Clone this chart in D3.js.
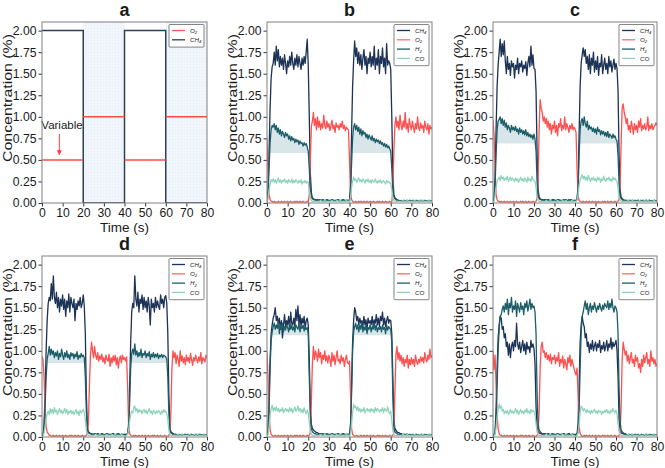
<!DOCTYPE html>
<html><head><meta charset="utf-8">
<script src="https://cdn.jsdelivr.net/npm/d3@7"></script>
<style>
body{margin:0;background:#fff}
svg{display:block}
text{font-family:"Liberation Sans",Arial,sans-serif;fill:#1a1a1a}
</style>
</head><body><svg id="chart" width="665" height="468"></svg>
<script>
// ---------------- DATA ----------------
const panelLabels = ["a","b","c","d","e","f"];
const xTicks = [0,10,20,30,40,50,60,70,80];
const yTicks = [0,0.25,0.5,0.75,1.0,1.25,1.5,1.75,2.0];
const sampleStep = 0.5; // s between samples of the measured series

// panel a: programmed (step) concentrations
const aStepTimes = [0,20,40,60,80];
const aCH4 = [2.0,0,2.0,0,0];
const aO2  = [0.5,1.0,0.5,1.0];
const aShaded = [[20,40],[60,80]];
const aAnnotation = "Variable";

// panel b
const bCH4 = [
0.03,0.15,0.6,1.1,1.45,1.58,1.62,1.75,1.6,1.82,
1.65,1.78,1.58,1.7,1.6,1.68,1.55,1.72,1.62,1.5,
1.65,1.58,1.7,1.6,1.75,1.62,1.55,1.68,1.6,1.72,
1.58,1.7,1.62,1.55,1.68,1.6,1.7,1.62,1.75,1.9,
1.6,1.0,0.35,0.12,0.06,0.05,0.04,0.04,0.03,0.04,
0.03,0.04,0.03,0.03,0.04,0.03,0.02,0.03,0.04,0.03,
0.03,0.02,0.03,0.04,0.03,0.03,0.02,0.03,0.03,0.04,
0.03,0.02,0.03,0.03,0.04,0.03,0.02,0.03,0.03,0.03,
0.03,0.2,0.8,1.35,1.65,1.88,1.7,1.8,1.62,1.75,
1.6,1.72,1.55,1.68,1.78,1.6,1.7,1.5,1.68,1.62,
1.75,1.58,1.7,1.6,1.82,1.55,1.68,1.6,1.78,1.5,
1.7,1.62,1.8,1.58,1.68,1.5,1.85,1.6,1.65,1.62,
1.55,1.0,0.35,0.1,0.06,0.05,0.04,0.03,0.03,0.02,
0.03,0.02,0.02,0.03,0.02,0.02,0.03,0.02,0.02,0.03,
0.02,0.02,0.03,0.02,0.02,0.03,0.02,0.02,0.02,0.03,
0.02,0.03,0.02,0.02,0.03,0.02,0.02,0.03,0.02,0.02,
0.02];
const bO2 = [
0.75,0.35,0.1,0.04,0.02,0.02,0.01,0.02,0.01,0.01,
0.01,0.02,0.01,0.01,0.02,0.01,0.01,0.02,0.01,0.01,
0.02,0.01,0.01,0.02,0.01,0.01,0.01,0.02,0.01,0.02,
0.01,0.01,0.02,0.01,0.01,0.02,0.01,0.01,0.01,0.02,
0.01,0.1,0.5,0.88,0.95,1.05,0.9,0.98,0.85,1.0,
0.88,0.95,0.85,0.92,0.87,1.02,0.9,0.86,0.95,0.88,
0.92,0.84,0.9,0.96,0.86,0.9,0.82,0.93,0.88,0.9,
0.85,0.92,0.88,0.95,0.86,0.9,0.84,0.88,0.86,0.85,
0.5,0.12,0.04,0.02,0.01,0.01,0.02,0.01,0.01,0.02,
0.01,0.02,0.01,0.01,0.02,0.01,0.01,0.02,0.01,0.01,
0.02,0.01,0.01,0.02,0.01,0.01,0.01,0.02,0.01,0.02,
0.01,0.01,0.02,0.01,0.01,0.02,0.01,0.01,0.01,0.02,
0.01,0.01,0.15,0.6,0.9,1.0,0.88,0.95,0.85,1.02,
0.9,0.85,0.95,0.88,1.05,0.86,0.92,0.82,0.98,0.9,
0.85,0.95,0.88,0.82,0.92,0.86,1.0,0.88,0.84,0.93,
0.87,0.9,0.82,0.95,0.88,0.85,0.92,0.8,0.9,0.86,
0.88];
const bH2 = [
0.02,0.1,0.4,0.7,0.85,0.9,0.88,0.92,0.85,0.9,
0.82,0.87,0.8,0.85,0.78,0.83,0.8,0.76,0.82,0.78,
0.8,0.74,0.78,0.72,0.77,0.73,0.75,0.7,0.74,0.71,
0.73,0.68,0.72,0.69,0.7,0.66,0.7,0.67,0.69,0.65,
0.6,0.4,0.15,0.07,0.05,0.04,0.04,0.03,0.04,0.03,
0.03,0.04,0.03,0.03,0.04,0.03,0.03,0.03,0.04,0.03,
0.03,0.03,0.03,0.04,0.03,0.03,0.03,0.03,0.03,0.04,
0.03,0.03,0.03,0.03,0.04,0.03,0.03,0.03,0.03,0.03,
0.02,0.12,0.45,0.75,0.88,0.92,0.85,0.9,0.83,0.88,
0.8,0.86,0.78,0.84,0.8,0.82,0.76,0.8,0.74,0.79,
0.76,0.73,0.78,0.72,0.75,0.7,0.74,0.71,0.73,0.69,
0.72,0.68,0.7,0.66,0.69,0.65,0.68,0.64,0.66,0.63,
0.6,0.4,0.15,0.07,0.05,0.04,0.03,0.03,0.03,0.02,
0.03,0.02,0.03,0.03,0.02,0.03,0.03,0.02,0.03,0.03,
0.02,0.03,0.03,0.02,0.03,0.03,0.02,0.03,0.02,0.03,
0.03,0.02,0.03,0.03,0.02,0.03,0.02,0.03,0.03,0.02,
0.03];
const bCO = [
0.01,0.05,0.15,0.22,0.27,0.25,0.28,0.24,0.27,0.23,
0.26,0.29,0.24,0.27,0.23,0.26,0.25,0.28,0.24,0.26,
0.23,0.27,0.25,0.24,0.28,0.23,0.26,0.24,0.27,0.25,
0.23,0.26,0.24,0.27,0.22,0.25,0.24,0.26,0.23,0.25,
0.24,0.15,0.06,0.03,0.02,0.02,0.02,0.02,0.02,0.02,
0.02,0.02,0.03,0.02,0.02,0.02,0.03,0.02,0.02,0.02,
0.02,0.02,0.02,0.03,0.02,0.02,0.02,0.02,0.03,0.02,
0.02,0.03,0.02,0.02,0.02,0.02,0.02,0.03,0.02,0.02,
0.01,0.06,0.18,0.25,0.3,0.26,0.28,0.24,0.27,0.29,
0.25,0.27,0.24,0.28,0.26,0.23,0.27,0.25,0.28,0.24,
0.26,0.23,0.27,0.25,0.24,0.28,0.25,0.23,0.26,0.24,
0.27,0.23,0.25,0.26,0.24,0.22,0.26,0.24,0.25,0.23,
0.23,0.15,0.06,0.03,0.02,0.02,0.02,0.02,0.02,0.02,
0.02,0.02,0.03,0.02,0.02,0.02,0.03,0.02,0.02,0.02,
0.02,0.02,0.02,0.03,0.02,0.02,0.02,0.02,0.03,0.02,
0.02,0.03,0.02,0.02,0.02,0.02,0.02,0.03,0.02,0.02,
0.02];

// panel c
const cCH4 = [
0.02,0.05,0.3,0.85,1.35,1.6,1.75,1.9,1.7,1.85,
1.72,1.88,1.65,1.5,1.7,1.55,1.62,1.48,1.65,1.58,
1.62,1.45,1.6,1.55,1.68,1.5,1.62,1.58,1.65,1.52,
1.6,1.56,1.64,1.48,1.62,1.7,1.58,1.82,1.6,1.72,
1.56,1.55,1.3,0.6,0.15,0.07,0.05,0.04,0.04,0.03,
0.04,0.03,0.03,0.04,0.03,0.03,0.02,0.03,0.03,0.04,
0.03,0.03,0.02,0.03,0.04,0.03,0.03,0.02,0.03,0.03,
0.03,0.04,0.03,0.02,0.03,0.03,0.04,0.03,0.02,0.03,
0.03,0.03,0.04,0.2,0.8,1.35,1.62,1.72,1.8,1.7,
1.78,1.62,1.7,1.55,1.72,1.5,1.68,1.6,1.75,1.52,
1.65,1.55,1.7,1.48,1.62,1.58,1.72,1.5,1.6,1.68,
1.55,1.62,1.5,1.7,1.58,1.65,1.52,1.6,1.67,1.55,
1.62,1.56,1.3,0.55,0.15,0.07,0.05,0.04,0.03,0.03,
0.03,0.03,0.02,0.03,0.03,0.02,0.03,0.03,0.02,0.03,
0.02,0.03,0.03,0.02,0.03,0.02,0.03,0.03,0.02,0.03,
0.03,0.02,0.03,0.03,0.02,0.03,0.02,0.03,0.03,0.02,
0.03];
const cO2 = [
0.97,0.8,0.4,0.1,0.04,0.02,0.02,0.01,0.02,0.01,
0.01,0.02,0.01,0.01,0.02,0.01,0.01,0.02,0.01,0.01,
0.02,0.01,0.01,0.02,0.01,0.01,0.01,0.02,0.01,0.02,
0.01,0.01,0.02,0.01,0.01,0.02,0.01,0.01,0.01,0.02,
0.01,0.01,0.02,0.05,0.3,0.85,1.2,1.1,1.05,0.95,
1.0,0.92,0.98,0.88,0.95,0.85,0.92,0.8,0.9,0.86,
0.95,0.82,0.9,0.78,0.92,0.88,0.98,0.84,0.9,0.86,
1.0,0.85,0.92,0.88,0.82,0.9,0.86,0.92,0.85,0.88,
0.86,0.82,0.4,0.08,0.03,0.02,0.01,0.01,0.02,0.01,
0.01,0.02,0.01,0.01,0.02,0.01,0.01,0.02,0.01,0.01,
0.02,0.01,0.01,0.02,0.01,0.01,0.01,0.02,0.01,0.02,
0.01,0.01,0.02,0.01,0.01,0.02,0.01,0.01,0.01,0.02,
0.01,0.01,0.02,0.04,0.2,0.7,1.1,1.15,1.05,1.0,
0.92,0.98,0.85,0.9,0.82,0.95,0.88,0.8,0.92,0.85,
0.9,0.82,0.95,0.88,0.98,0.84,0.9,0.86,0.92,0.85,
0.88,1.0,0.84,0.9,0.86,0.92,0.85,0.88,0.9,0.93,
0.9];
const cH2 = [
0.01,0.04,0.2,0.55,0.85,0.95,0.97,1.0,0.92,0.98,
0.9,0.96,0.88,0.93,0.85,0.9,0.87,0.82,0.9,0.85,
0.88,0.84,0.89,0.83,0.86,0.8,0.87,0.82,0.85,0.8,
0.84,0.79,0.85,0.78,0.82,0.77,0.8,0.76,0.79,0.74,
0.8,0.74,0.6,0.25,0.08,0.05,0.04,0.04,0.03,0.03,
0.03,0.04,0.03,0.03,0.04,0.03,0.03,0.03,0.04,0.03,
0.03,0.03,0.03,0.04,0.03,0.03,0.03,0.03,0.03,0.04,
0.03,0.03,0.03,0.03,0.04,0.03,0.03,0.03,0.03,0.03,
0.02,0.03,0.04,0.15,0.55,0.85,0.95,0.98,0.9,1.0,
0.92,0.88,0.95,0.85,0.9,0.86,0.88,0.83,0.87,0.82,
0.86,0.8,0.88,0.83,0.85,0.79,0.84,0.8,0.83,0.78,
0.82,0.77,0.83,0.76,0.8,0.78,0.75,0.8,0.76,0.78,
0.74,0.72,0.55,0.22,0.08,0.05,0.04,0.03,0.03,0.03,
0.03,0.02,0.03,0.03,0.02,0.03,0.03,0.02,0.03,0.03,
0.02,0.03,0.03,0.02,0.03,0.03,0.02,0.03,0.02,0.03,
0.03,0.02,0.03,0.03,0.02,0.03,0.02,0.03,0.03,0.02,
0.03];
const cCO = [
0.0,0.02,0.08,0.18,0.25,0.28,0.3,0.26,0.32,0.28,
0.3,0.26,0.29,0.27,0.31,0.25,0.28,0.3,0.26,0.29,
0.27,0.25,0.29,0.26,0.28,0.24,0.27,0.3,0.26,0.28,
0.25,0.29,0.27,0.24,0.3,0.26,0.28,0.25,0.31,0.27,
0.26,0.25,0.18,0.07,0.03,0.02,0.02,0.02,0.02,0.02,
0.02,0.02,0.03,0.02,0.02,0.02,0.03,0.02,0.02,0.02,
0.02,0.02,0.02,0.03,0.02,0.02,0.02,0.02,0.03,0.02,
0.02,0.03,0.02,0.02,0.02,0.02,0.02,0.03,0.02,0.02,
0.02,0.02,0.03,0.1,0.2,0.27,0.3,0.33,0.28,0.31,
0.27,0.3,0.26,0.32,0.28,0.25,0.29,0.27,0.3,0.26,
0.28,0.25,0.3,0.27,0.29,0.24,0.28,0.26,0.31,0.27,
0.25,0.29,0.27,0.3,0.26,0.28,0.25,0.3,0.27,0.29,
0.26,0.25,0.17,0.07,0.03,0.02,0.02,0.02,0.02,0.02,
0.02,0.02,0.03,0.02,0.02,0.02,0.03,0.02,0.02,0.02,
0.02,0.02,0.02,0.03,0.02,0.02,0.02,0.02,0.03,0.02,
0.02,0.03,0.02,0.02,0.02,0.02,0.02,0.03,0.02,0.02,
0.02];

// panel d
const dCH4 = [
0.01,0.03,0.15,0.5,1.0,1.35,1.55,1.62,1.58,1.78,
1.6,1.87,1.62,1.55,1.68,1.5,1.62,1.45,1.6,1.52,
1.65,1.48,1.6,1.4,1.58,1.5,1.66,1.45,1.62,1.55,
1.5,1.6,1.35,1.55,1.48,1.58,1.52,1.62,1.5,1.55,
1.65,1.52,1.2,0.5,0.12,0.06,0.05,0.04,0.04,0.03,
0.03,0.04,0.03,0.03,0.04,0.03,0.02,0.03,0.04,0.03,
0.03,0.02,0.03,0.04,0.03,0.03,0.02,0.03,0.03,0.04,
0.03,0.02,0.03,0.03,0.04,0.03,0.02,0.03,0.03,0.03,
0.03,0.03,0.03,0.04,0.15,0.6,1.1,1.45,1.55,1.5,
1.87,1.6,1.52,1.68,1.45,1.6,1.55,1.65,1.48,1.62,
1.5,1.58,1.45,1.62,1.52,1.3,1.6,1.5,1.55,1.45,
1.62,1.5,1.58,1.52,1.48,1.65,1.55,1.6,1.5,1.62,
1.64,1.55,1.2,0.5,0.12,0.06,0.05,0.04,0.03,0.03,
0.03,0.02,0.02,0.03,0.02,0.02,0.03,0.02,0.02,0.03,
0.02,0.02,0.03,0.02,0.02,0.03,0.02,0.02,0.02,0.03,
0.02,0.03,0.02,0.02,0.03,0.02,0.02,0.03,0.02,0.02,
0.02];
const dO2 = [
0.93,0.9,0.7,0.3,0.12,0.06,0.04,0.02,0.02,0.01,
0.01,0.02,0.01,0.01,0.02,0.01,0.01,0.02,0.01,0.01,
0.02,0.01,0.01,0.02,0.01,0.01,0.01,0.02,0.01,0.02,
0.01,0.01,0.02,0.01,0.01,0.02,0.01,0.01,0.01,0.02,
0.01,0.01,0.01,0.02,0.04,0.15,0.6,0.95,1.1,1.0,
0.92,1.05,0.95,0.9,0.98,0.88,0.94,0.9,0.96,0.87,
0.92,0.85,0.95,0.9,0.88,0.96,0.82,0.92,0.86,0.94,
0.88,0.95,0.84,0.92,0.8,0.9,0.94,0.86,0.95,0.9,
0.92,0.88,0.93,0.6,0.12,0.04,0.02,0.01,0.01,0.02,
0.01,0.02,0.01,0.01,0.02,0.01,0.01,0.02,0.01,0.01,
0.02,0.01,0.01,0.02,0.01,0.01,0.01,0.02,0.01,0.02,
0.01,0.01,0.02,0.01,0.01,0.02,0.01,0.01,0.01,0.02,
0.01,0.01,0.01,0.02,0.05,0.3,0.8,1.0,0.92,0.98,
0.85,0.95,0.9,0.82,1.0,0.88,0.94,0.86,0.92,0.84,
0.95,0.88,0.92,0.86,0.97,0.9,0.83,0.92,0.88,0.95,
0.9,0.86,0.93,0.88,0.98,0.85,0.92,0.9,0.87,0.95,
0.92];
const dH2 = [
0.01,0.02,0.1,0.35,0.7,0.9,0.97,1.05,0.95,1.02,
0.96,1.0,0.92,0.98,0.94,1.0,0.9,0.97,0.93,1.02,
0.95,0.9,0.98,0.93,1.0,0.92,0.96,0.9,0.98,0.94,
0.97,0.91,0.96,0.93,0.99,0.9,0.95,0.92,0.97,0.93,
0.95,0.92,0.7,0.3,0.08,0.05,0.04,0.04,0.03,0.03,
0.03,0.04,0.03,0.03,0.04,0.03,0.03,0.03,0.04,0.03,
0.03,0.03,0.03,0.04,0.03,0.03,0.03,0.03,0.03,0.04,
0.03,0.03,0.03,0.03,0.04,0.03,0.03,0.03,0.03,0.03,
0.02,0.02,0.03,0.04,0.1,0.4,0.8,0.97,1.02,0.96,
1.08,0.95,1.0,0.93,0.98,0.94,1.02,0.92,0.97,0.95,
1.0,0.92,0.97,0.94,0.99,0.9,0.96,0.93,0.98,0.92,
0.96,0.93,0.97,0.91,0.95,0.93,0.96,0.92,0.95,0.94,
0.93,0.9,0.7,0.28,0.08,0.05,0.04,0.03,0.03,0.03,
0.03,0.02,0.03,0.03,0.02,0.03,0.03,0.02,0.03,0.03,
0.02,0.03,0.03,0.02,0.03,0.03,0.02,0.03,0.02,0.03,
0.03,0.02,0.03,0.03,0.02,0.03,0.02,0.03,0.03,0.02,
0.03];
const dCO = [
0.0,0.01,0.05,0.12,0.22,0.27,0.3,0.26,0.33,0.28,
0.32,0.27,0.34,0.29,0.31,0.26,0.3,0.33,0.28,0.31,
0.27,0.3,0.33,0.28,0.32,0.26,0.3,0.28,0.31,0.27,
0.3,0.26,0.29,0.32,0.27,0.3,0.25,0.31,0.28,0.3,
0.32,0.28,0.2,0.08,0.03,0.02,0.02,0.02,0.02,0.02,
0.02,0.02,0.03,0.02,0.02,0.02,0.03,0.02,0.02,0.02,
0.02,0.02,0.02,0.03,0.02,0.02,0.02,0.02,0.03,0.02,
0.02,0.03,0.02,0.02,0.02,0.02,0.02,0.03,0.02,0.02,
0.01,0.01,0.02,0.03,0.08,0.18,0.26,0.3,0.28,0.34,
0.36,0.3,0.33,0.28,0.32,0.29,0.31,0.27,0.3,0.32,
0.28,0.31,0.27,0.3,0.33,0.28,0.3,0.26,0.31,0.29,
0.27,0.3,0.28,0.31,0.29,0.26,0.3,0.28,0.32,0.29,
0.3,0.27,0.2,0.08,0.03,0.02,0.02,0.02,0.02,0.02,
0.02,0.02,0.03,0.02,0.02,0.02,0.03,0.02,0.02,0.02,
0.02,0.02,0.02,0.03,0.02,0.02,0.02,0.02,0.03,0.02,
0.02,0.03,0.02,0.02,0.02,0.02,0.02,0.03,0.02,0.02,
0.02];

// panel e
const eCH4 = [
0.02,0.1,0.45,0.9,1.2,1.3,1.38,1.42,1.5,1.35,
1.4,1.3,1.38,1.25,1.35,1.15,1.3,1.42,1.28,1.35,
1.3,1.4,1.25,1.45,1.32,1.3,1.38,1.28,1.48,1.35,
1.52,1.3,1.42,1.28,1.38,1.32,1.4,1.25,1.35,1.38,
1.3,0.9,0.35,0.15,0.1,0.08,0.07,0.06,0.05,0.05,
0.04,0.04,0.04,0.03,0.04,0.03,0.03,0.03,0.03,0.03,
0.03,0.02,0.03,0.04,0.03,0.03,0.02,0.03,0.03,0.04,
0.03,0.02,0.03,0.03,0.04,0.03,0.02,0.03,0.03,0.03,
0.03,0.15,0.6,1.1,1.35,1.5,1.45,1.35,1.4,1.3,
1.38,1.32,1.35,1.28,1.4,1.3,1.36,1.25,1.38,1.32,
1.35,1.3,1.4,1.28,1.36,1.32,1.42,1.3,1.38,1.28,
1.4,1.35,1.45,1.3,1.38,1.28,1.35,1.4,1.32,1.36,
1.35,1.2,0.7,0.2,0.1,0.08,0.06,0.05,0.05,0.04,
0.04,0.03,0.03,0.03,0.03,0.03,0.03,0.03,0.02,0.03,
0.02,0.02,0.03,0.02,0.02,0.03,0.02,0.02,0.02,0.03,
0.02,0.03,0.02,0.02,0.03,0.02,0.02,0.03,0.02,0.02,
0.02];
const eO2 = [
0.98,0.7,0.3,0.08,0.03,0.02,0.01,0.01,0.02,0.01,
0.01,0.02,0.01,0.01,0.02,0.01,0.01,0.02,0.01,0.01,
0.02,0.01,0.01,0.02,0.01,0.01,0.01,0.02,0.01,0.02,
0.01,0.01,0.02,0.01,0.01,0.02,0.01,0.01,0.01,0.02,
0.01,0.02,0.05,0.4,0.85,1.05,0.9,1.0,0.95,0.88,
1.02,0.92,0.98,0.85,0.95,0.9,1.0,0.88,0.94,0.86,
0.95,0.9,0.82,0.98,0.88,0.95,0.84,0.92,1.0,0.88,
0.9,0.85,0.95,0.88,0.92,0.82,0.9,0.95,0.86,0.85,
0.88,0.5,0.1,0.03,0.02,0.01,0.01,0.02,0.01,0.01,
0.01,0.02,0.01,0.01,0.02,0.01,0.01,0.02,0.01,0.01,
0.02,0.01,0.01,0.02,0.01,0.01,0.01,0.02,0.01,0.02,
0.01,0.01,0.02,0.01,0.01,0.02,0.01,0.01,0.01,0.02,
0.01,0.01,0.02,0.05,0.5,0.95,1.05,0.9,0.98,0.88,
0.95,0.85,0.92,0.82,0.9,0.86,0.95,0.8,0.9,0.84,
0.92,0.85,0.9,0.82,0.95,0.88,0.84,0.9,0.86,0.93,
0.88,0.92,0.86,0.98,0.9,0.87,0.95,0.9,1.02,0.92,
0.95];
const eH2 = [
0.01,0.05,0.3,0.8,1.12,1.22,1.28,1.32,1.25,1.3,
1.26,1.33,1.2,1.3,1.25,1.32,1.22,1.28,1.24,1.3,
1.27,1.22,1.32,1.25,1.3,1.24,1.28,1.22,1.3,1.27,
1.25,1.32,1.22,1.28,1.26,1.3,1.23,1.28,1.25,1.27,
1.2,0.7,0.25,0.1,0.06,0.05,0.04,0.04,0.03,0.03,
0.03,0.04,0.03,0.03,0.04,0.03,0.03,0.03,0.04,0.03,
0.03,0.03,0.03,0.04,0.03,0.03,0.03,0.03,0.03,0.04,
0.03,0.03,0.03,0.03,0.04,0.03,0.03,0.03,0.03,0.03,
0.02,0.1,0.5,1.0,1.22,1.28,1.32,1.25,1.3,1.22,
1.3,1.25,1.33,1.22,1.28,1.24,1.3,1.2,1.27,1.25,
1.3,1.22,1.28,1.25,1.32,1.24,1.3,1.22,1.27,1.25,
1.28,1.22,1.3,1.25,1.27,1.2,1.3,1.24,1.28,1.26,
1.25,1.1,0.5,0.12,0.06,0.05,0.04,0.03,0.03,0.03,
0.03,0.02,0.03,0.03,0.02,0.03,0.03,0.02,0.03,0.03,
0.02,0.03,0.03,0.02,0.03,0.03,0.02,0.03,0.02,0.03,
0.03,0.02,0.03,0.03,0.02,0.03,0.02,0.03,0.03,0.02,
0.03];
const eCO = [
0.01,0.03,0.12,0.25,0.33,0.37,0.3,0.34,0.31,0.35,
0.3,0.33,0.29,0.32,0.3,0.34,0.28,0.31,0.33,0.3,
0.32,0.29,0.34,0.3,0.33,0.28,0.31,0.35,0.3,0.32,
0.36,0.3,0.33,0.29,0.32,0.28,0.34,0.3,0.27,0.31,
0.28,0.18,0.07,0.03,0.02,0.02,0.02,0.02,0.02,0.02,
0.02,0.02,0.03,0.02,0.02,0.02,0.03,0.02,0.02,0.02,
0.02,0.02,0.02,0.03,0.02,0.02,0.02,0.02,0.03,0.02,
0.02,0.03,0.02,0.02,0.02,0.02,0.02,0.03,0.02,0.02,
0.01,0.04,0.15,0.28,0.38,0.34,0.36,0.31,0.35,0.3,
0.33,0.29,0.32,0.3,0.34,0.28,0.31,0.33,0.3,0.32,
0.29,0.33,0.3,0.32,0.28,0.34,0.3,0.33,0.31,0.29,
0.32,0.3,0.34,0.28,0.33,0.31,0.3,0.35,0.29,0.27,
0.3,0.2,0.08,0.03,0.02,0.02,0.02,0.02,0.02,0.02,
0.02,0.02,0.03,0.02,0.02,0.02,0.03,0.02,0.02,0.02,
0.02,0.02,0.02,0.03,0.02,0.02,0.02,0.02,0.03,0.02,
0.02,0.03,0.02,0.02,0.02,0.02,0.02,0.03,0.02,0.02,
0.02];

// panel f
const fCH4 = [
0.02,0.03,0.06,0.3,0.8,1.15,1.3,1.4,1.38,1.25,
1.28,1.15,1.2,1.05,1.1,0.95,1.08,0.92,1.05,1.1,
1.0,1.12,1.05,1.32,1.08,1.02,1.1,0.98,1.05,1.12,
1.0,1.08,0.96,1.1,1.02,1.05,0.98,1.12,1.04,1.08,
1.02,0.85,0.35,0.12,0.07,0.05,0.04,0.04,0.03,0.04,
0.03,0.04,0.03,0.03,0.04,0.03,0.02,0.03,0.04,0.03,
0.03,0.02,0.03,0.04,0.03,0.03,0.02,0.03,0.03,0.04,
0.03,0.02,0.03,0.03,0.04,0.03,0.02,0.03,0.03,0.03,
0.03,0.03,0.04,0.15,0.6,1.1,1.3,1.4,1.32,1.28,
1.15,1.2,1.05,1.1,0.98,1.08,1.02,1.12,1.0,1.06,
1.1,1.0,1.08,1.04,1.12,0.98,1.06,1.02,1.1,1.0,
1.05,1.12,1.0,1.08,1.04,1.15,1.02,1.1,1.05,1.08,
1.12,1.0,0.7,0.2,0.08,0.05,0.04,0.04,0.03,0.03,
0.03,0.02,0.02,0.03,0.02,0.02,0.03,0.02,0.02,0.03,
0.02,0.02,0.03,0.02,0.02,0.03,0.02,0.02,0.02,0.03,
0.02,0.03,0.02,0.02,0.03,0.02,0.02,0.03,0.02,0.02,
0.02];
const fO2 = [
1.0,0.78,0.95,0.6,0.25,0.1,0.04,0.02,0.02,0.01,
0.01,0.02,0.01,0.01,0.02,0.01,0.01,0.02,0.01,0.01,
0.02,0.01,0.01,0.02,0.01,0.01,0.01,0.02,0.01,0.02,
0.01,0.01,0.02,0.01,0.01,0.02,0.01,0.01,0.01,0.02,
0.01,0.01,0.01,0.02,0.05,0.3,0.8,1.05,1.1,0.98,
1.0,0.92,0.98,0.9,0.95,0.88,0.96,0.85,0.92,0.9,
0.95,0.85,0.92,0.88,0.98,0.82,0.9,0.86,0.94,0.8,
0.9,0.85,0.78,0.92,0.86,0.95,0.82,0.9,0.85,0.8,
0.75,0.72,0.8,0.5,0.12,0.04,0.02,0.01,0.01,0.02,
0.01,0.02,0.01,0.01,0.02,0.01,0.01,0.02,0.01,0.01,
0.02,0.01,0.01,0.02,0.01,0.01,0.01,0.02,0.01,0.02,
0.01,0.01,0.02,0.01,0.01,0.02,0.01,0.01,0.01,0.02,
0.01,0.01,0.01,0.02,0.05,0.35,0.9,1.1,1.02,0.95,
1.0,0.88,0.95,0.85,0.92,0.98,0.86,0.9,0.82,0.95,
0.88,0.92,0.8,0.85,0.75,0.9,0.82,0.95,0.86,0.92,
0.98,0.85,0.9,0.82,1.0,0.88,0.92,0.85,0.9,0.82,
0.85];
const fH2 = [
0.01,0.02,0.04,0.2,0.6,1.0,1.25,1.4,1.42,1.48,
1.52,1.45,1.55,1.48,1.6,1.42,1.55,1.5,1.62,1.45,
1.52,1.48,1.58,1.4,1.55,1.5,1.45,1.56,1.48,1.52,
1.42,1.55,1.5,1.58,1.46,1.52,1.6,1.48,1.55,1.5,
1.52,1.45,1.2,0.5,0.15,0.08,0.06,0.05,0.04,0.04,
0.03,0.04,0.03,0.03,0.04,0.03,0.03,0.03,0.04,0.03,
0.03,0.03,0.03,0.04,0.03,0.03,0.03,0.03,0.03,0.04,
0.03,0.03,0.03,0.03,0.04,0.03,0.03,0.03,0.03,0.03,
0.02,0.02,0.03,0.05,0.3,0.8,1.2,1.4,1.45,1.52,
1.58,1.48,1.55,1.42,1.5,1.55,1.45,1.52,1.48,1.56,
1.5,1.45,1.52,1.48,1.55,1.5,1.46,1.53,1.48,1.55,
1.52,1.5,1.58,1.48,1.55,1.5,1.6,1.5,1.45,1.52,
1.5,1.45,1.2,0.55,0.18,0.08,0.06,0.05,0.04,0.04,
0.03,0.02,0.03,0.03,0.02,0.03,0.03,0.02,0.03,0.03,
0.02,0.03,0.03,0.02,0.03,0.03,0.02,0.03,0.02,0.03,
0.03,0.02,0.03,0.03,0.02,0.03,0.02,0.03,0.03,0.02,
0.03];
const fCO = [
0.0,0.01,0.03,0.1,0.22,0.32,0.38,0.33,0.36,0.3,
0.32,0.27,0.3,0.28,0.31,0.26,0.29,0.32,0.28,0.3,
0.27,0.3,0.33,0.28,0.31,0.26,0.29,0.32,0.28,0.3,
0.27,0.31,0.29,0.33,0.28,0.3,0.27,0.32,0.29,0.31,
0.3,0.26,0.15,0.06,0.03,0.02,0.02,0.02,0.02,0.02,
0.02,0.02,0.03,0.02,0.02,0.02,0.03,0.02,0.02,0.02,
0.02,0.02,0.02,0.03,0.02,0.02,0.02,0.02,0.03,0.02,
0.02,0.03,0.02,0.02,0.02,0.02,0.02,0.03,0.02,0.02,
0.01,0.01,0.02,0.05,0.15,0.28,0.36,0.34,0.3,0.33,
0.31,0.28,0.32,0.29,0.3,0.27,0.31,0.28,0.3,0.32,
0.28,0.3,0.27,0.31,0.29,0.3,0.26,0.3,0.28,0.31,
0.29,0.32,0.28,0.3,0.27,0.31,0.29,0.33,0.3,0.28,
0.31,0.27,0.15,0.06,0.03,0.02,0.02,0.02,0.02,0.02,
0.02,0.02,0.03,0.02,0.02,0.02,0.03,0.02,0.02,0.02,
0.02,0.02,0.02,0.03,0.02,0.02,0.02,0.02,0.03,0.02,
0.02,0.03,0.02,0.02,0.02,0.02,0.02,0.03,0.02,0.02,
0.02];

// H2 shaded-area lower bound for each measured panel (null = none)
const h2FillBase = [0.58, 0.69, 0.86, 1.18, null];

// ---------------- DRAWING ----------------
const svg = d3.select("#chart");
const colX = [[42,207],[267,432],[493,657]];
const rowY = [[22,203],[256,437]];
const colors = {CH4:"#1c3256", O2:"#ff4f4f", H2:"#1c5d68", CO:"#8fd3bd", fill:"#a8c8d0"};

const measured = [
  {CH4:bCH4,O2:bO2,H2:bH2,CO:bCO},
  {CH4:cCH4,O2:cO2,H2:cH2,CO:cCO},
  {CH4:dCH4,O2:dO2,H2:dH2,CO:dCO},
  {CH4:eCH4,O2:eO2,H2:eH2,CO:eCO},
  {CH4:fCH4,O2:fO2,H2:fH2,CO:fCO}
];

const defs = svg.append("defs");
const pat = defs.append("pattern").attr("id","dots").attr("width",3).attr("height",3).attr("patternUnits","userSpaceOnUse");
pat.append("rect").attr("width",3).attr("height",3).attr("fill","#f1f6fc");
pat.append("rect").attr("x",1).attr("y",1).attr("width",1).attr("height",1).attr("fill","#e3ecf6");
defs.append("marker").attr("id","arrowR").attr("viewBox","0 0 10 10").attr("refX",9).attr("refY",5)
  .attr("markerWidth",5).attr("markerHeight",5).attr("orient","auto")
  .append("path").attr("d","M0,0L10,5L0,10Z").attr("fill","#ff3b3b");

function legendLabel(sel, name){
  const m = name.match(/^([A-Z]+)(\d*)$/);
  sel.text(null);
  sel.append("tspan").text(m[1]);
  if (m[2]) sel.append("tspan").attr("font-size",4.2).attr("dy",1.3).text(m[2]);
}

function drawPanel(idx){
  const col = idx % 3, row = Math.floor(idx/3);
  const [x0,x1] = colX[col], [y0,y1] = rowY[row];
  const x = d3.scaleLinear().domain([0,80]).range([x0,x1]);
  const y = d3.scaleLinear().domain([0,2.1]).range([y1,y0]);
  const g = svg.append("g");
  const clipId = "clip"+idx;
  defs.append("clipPath").attr("id",clipId).append("rect")
    .attr("x",x0).attr("y",y0).attr("width",x1-x0).attr("height",y1-y0);
  const plot = g.append("g").attr("clip-path",`url(#${clipId})`);

  let legendItems;
  if (idx === 0){
    aShaded.forEach(([a,b])=>{
      plot.append("rect").attr("x",x(a)).attr("y",y0).attr("width",x(b)-x(a)).attr("height",y1-y0).attr("fill","url(#dots)");
    });
    const pts = aStepTimes.map((t,i)=>[t,aCH4[i]]);
    plot.append("path").attr("d", d3.line().x(d=>x(d[0])).y(d=>y(d[1])).curve(d3.curveStepAfter)(pts))
      .attr("fill","none").attr("stroke","#2c3e5c").attr("stroke-width",1.5);
    aO2.forEach((v,i)=>{
      plot.append("line").attr("x1",x(aStepTimes[i])).attr("x2",x(aStepTimes[i+1]))
        .attr("y1",y(v)).attr("y2",y(v)).attr("stroke","#ff4a4a").attr("stroke-width",1.5);
    });
    // annotation
    g.append("text").attr("x",x(9.7)).attr("y",y(0.86)).attr("text-anchor","middle")
      .attr("font-size",11.5).text(aAnnotation);
    g.append("line").attr("x1",x(8.4)).attr("x2",x(8.4)).attr("y1",y(0.8)).attr("y2",y(0.56))
      .attr("stroke","#ff3b3b").attr("stroke-width",1).attr("marker-end","url(#arrowR)");
    legendItems = [["O2","#ff5a5a"],["CH4","#2c3e5c"]];
  } else {
    const m = measured[idx-1];
    const data = d3.range(m.CH4.length).map(i=>({t:i*sampleStep, CH4:m.CH4[i], O2:m.O2[i], H2:m.H2[i], CO:m.CO[i]}));
    const base = h2FillBase[idx-1];
    if (base !== null){
      const area = d3.area().defined(d=>d.H2>base).x(d=>x(d.t)).y0(y(base)).y1(d=>y(d.H2));
      plot.append("path").attr("d",area(data)).attr("fill",colors.fill).attr("opacity",0.45);
    }
    ["CH4","O2","H2","CO"].forEach(k=>{
      const line = d3.line().x(d=>x(d.t)).y(d=>y(d[k]));
      plot.append("path").attr("d",line(data)).attr("fill","none").attr("stroke",colors[k])
        .attr("stroke-width",1.3).attr("stroke-linejoin","round");
    });
    legendItems = [["CH4",colors.CH4],["O2","#ff6b6b"],["H2",colors.H2],["CO",colors.CO]];
  }

  // axes
  const xa = g.append("g").attr("transform",`translate(0,${y1})`)
    .call(d3.axisBottom(x).tickValues(xTicks).tickSize(3.5).tickPadding(2).tickFormat(d3.format("d")));
  const ya = g.append("g").attr("transform",`translate(${x0},0)`)
    .call(d3.axisLeft(y).tickValues(yTicks).tickSize(3.5).tickPadding(2).tickFormat(d3.format(".2f")));
  [xa,ya].forEach(a=>{
    a.select(".domain").remove();
    a.selectAll("line").attr("stroke","#333");
    a.selectAll("text").attr("font-size",12.2).attr("fill","#1a1a1a").attr("font-family","Liberation Sans, Arial, sans-serif");
  });
  g.append("rect").attr("x",x0).attr("y",y0).attr("width",x1-x0).attr("height",y1-y0)
    .attr("fill","none").attr("stroke","#808080").attr("stroke-width",1);

  // labels
  g.append("text").attr("x",(x0+x1)/2).attr("y",y1+29).attr("text-anchor","middle").attr("font-size",13.5).text("Time (s)");
  g.append("text").attr("transform",`translate(${x0-34.5},${y0+76}) rotate(-90)`).attr("text-anchor","middle")
    .attr("dominant-baseline","central").attr("font-size",13).attr("textLength",128).attr("lengthAdjust","spacingAndGlyphs")
    .text("Concentration (%)");
  g.append("text").attr("x",(x0+x1)/2).attr("y",y0-6).attr("text-anchor","middle")
    .attr("font-size",18).attr("font-weight","bold").text(panelLabels[idx]);

  // legend
  const lw = 35, lh = 4 + legendItems.length*9.3;
  const lx = x1-3-lw, ly = y0+2.5;
  const lg = g.append("g");
  lg.append("rect").attr("x",lx).attr("y",ly).attr("width",lw).attr("height",lh)
    .attr("fill","#fff").attr("fill-opacity",0.9).attr("stroke","#666").attr("stroke-width",0.8).attr("rx",1);
  legendItems.forEach(([name,c],i)=>{
    const yy = ly + 6 + i*9.3;
    lg.append("line").attr("x1",lx+3).attr("x2",lx+16).attr("y1",yy).attr("y2",yy).attr("stroke",c).attr("stroke-width",1.3);
    const t = lg.append("text").attr("x",lx+21).attr("y",yy+2.2).attr("font-size",6.2)
      .attr("font-style","italic").attr("font-family","DejaVu Sans, sans-serif");
    legendLabel(t,name);
  });
}

for (let i=0;i<6;i++) drawPanel(i);
</script>
</body></html>
